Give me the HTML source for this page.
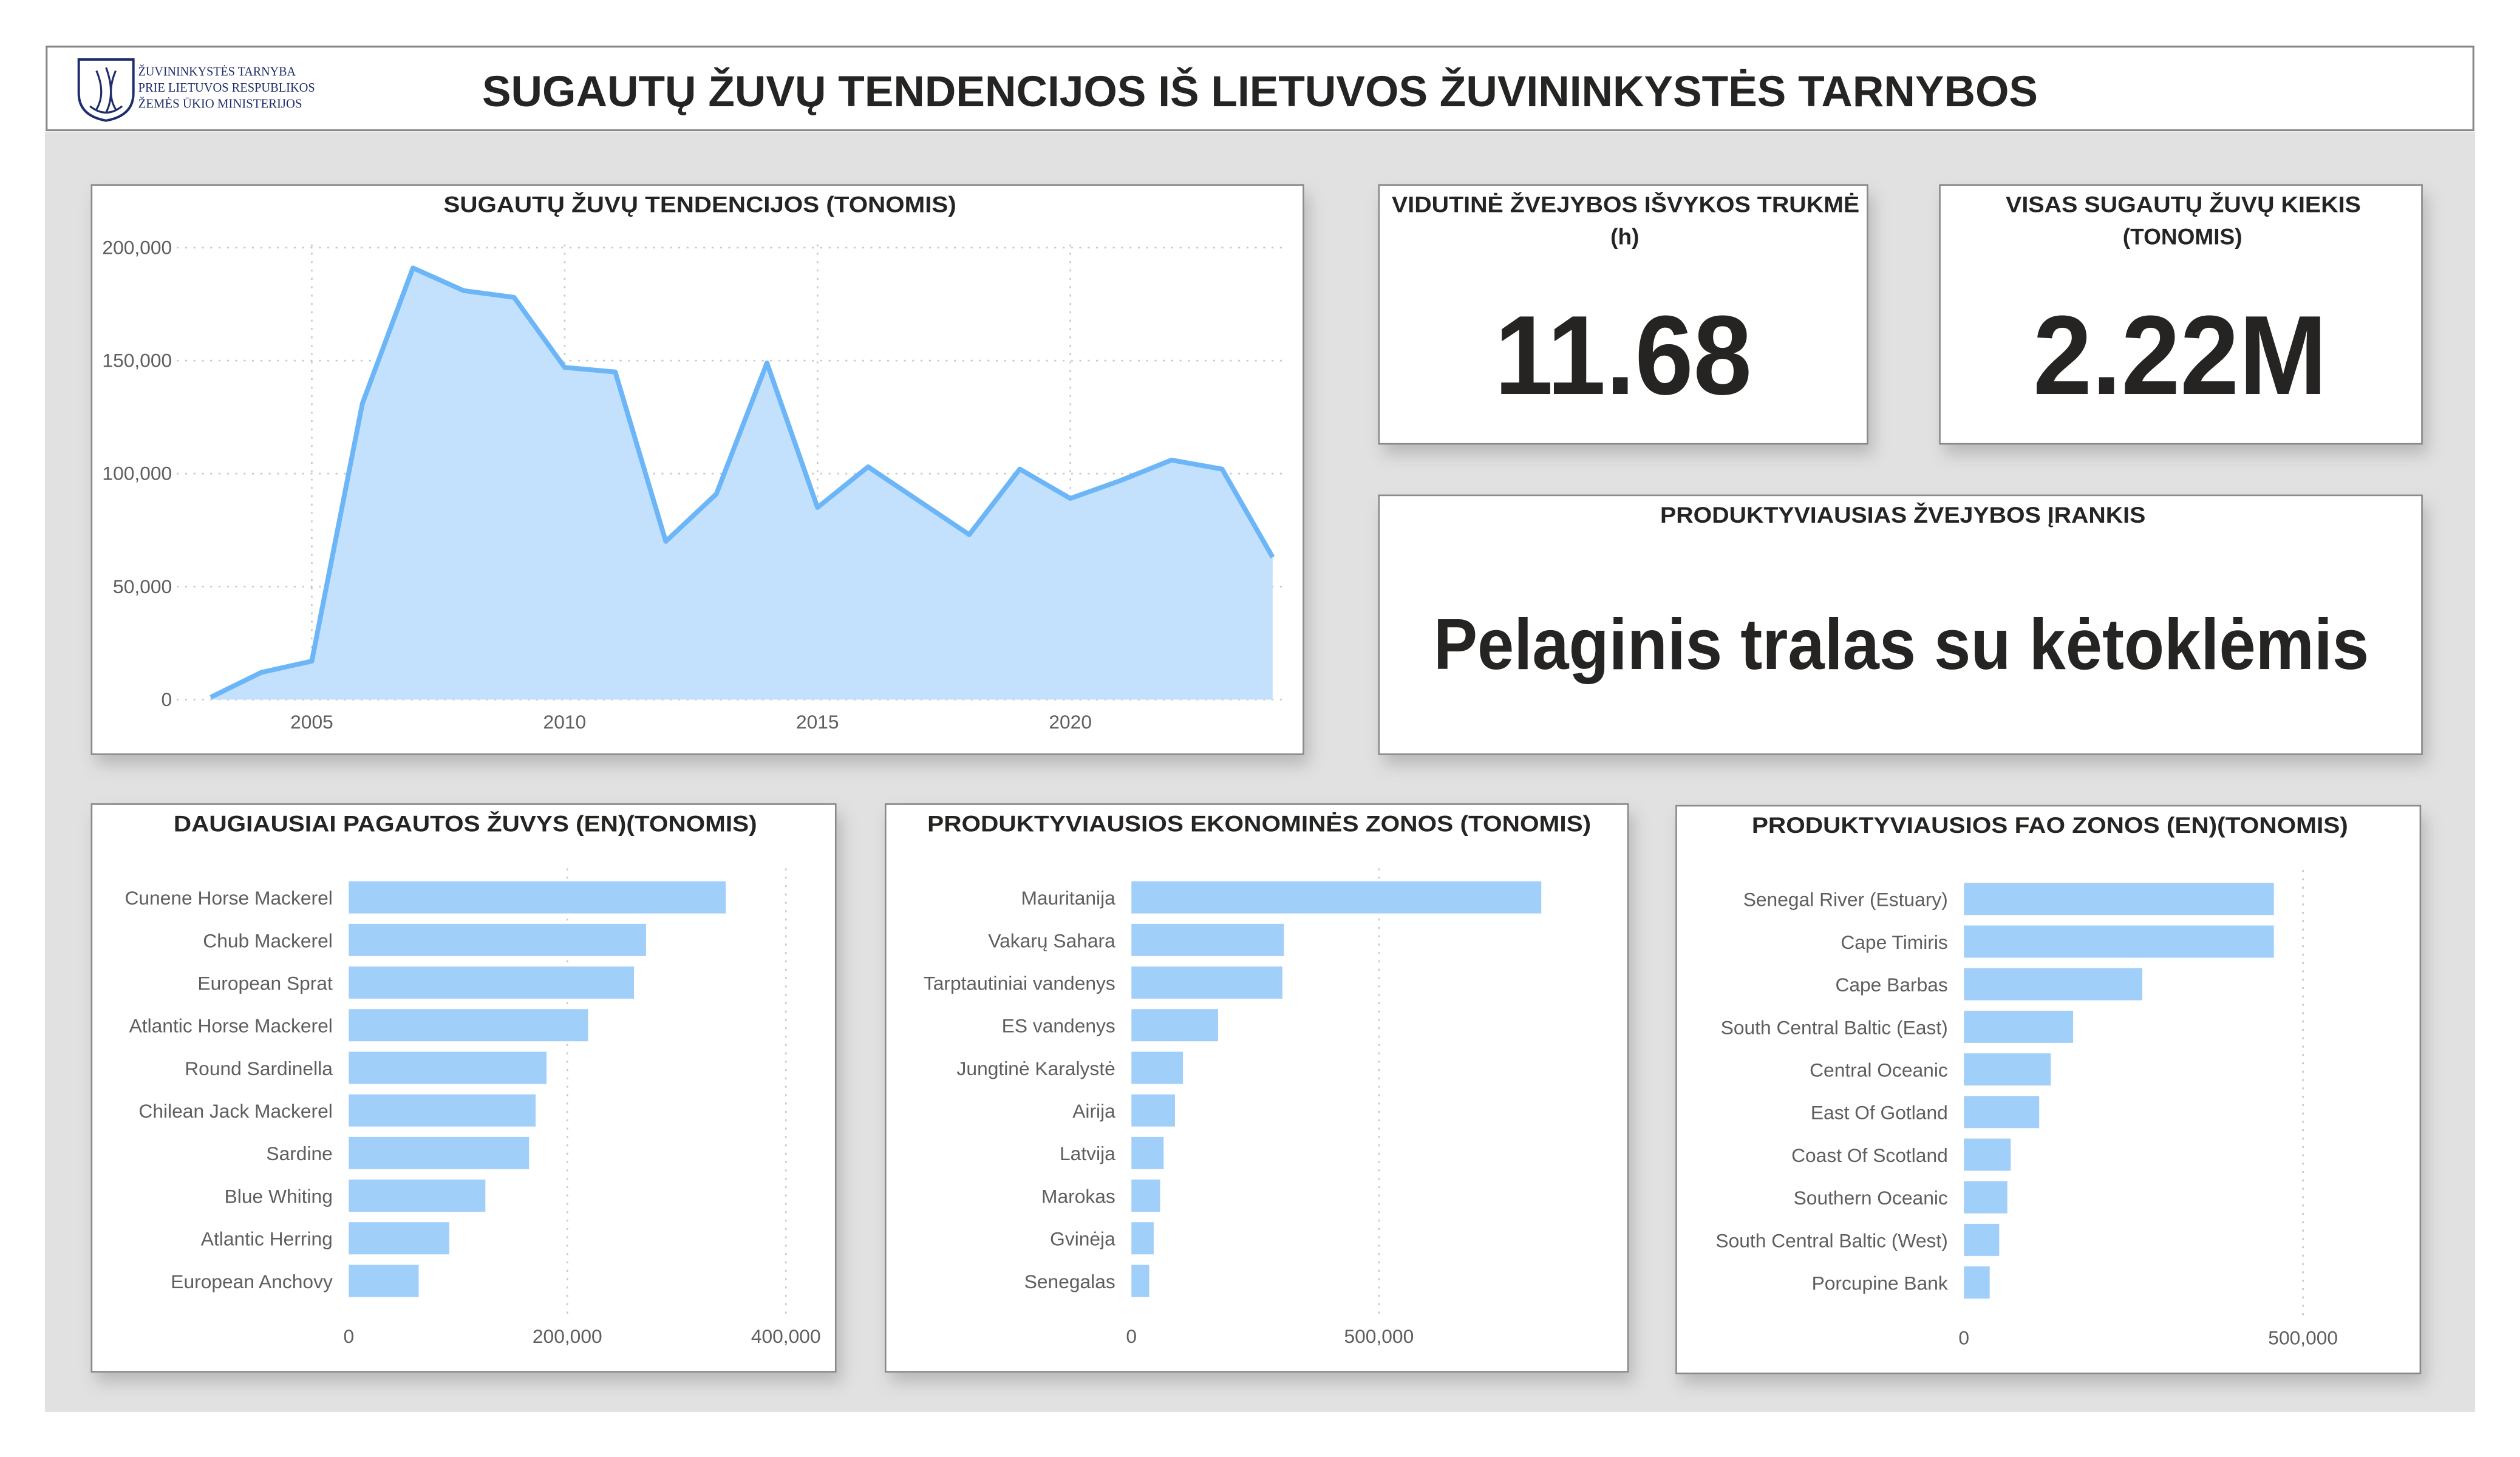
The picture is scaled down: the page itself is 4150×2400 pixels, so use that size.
<!DOCTYPE html>
<html><head><meta charset="utf-8"><style>
html,body{margin:0;padding:0;background:#fff;width:4150px;height:2400px;overflow:hidden}
svg{display:block}
text{font-family:"Liberation Sans",sans-serif}
.t{font-weight:bold;fill:#252423}
.ax{fill:#605e5c;font-size:12px}
.cat{fill:#605e5c;font-size:12px}
.serif{font-family:"Liberation Serif",serif}
</style></head><body>
<svg id="root" width="4150" height="2400" viewBox="0 0 1568 906" preserveAspectRatio="none" xmlns="http://www.w3.org/2000/svg">
<defs>
<filter id="sh" x="-10%" y="-10%" width="130%" height="140%"><feDropShadow dx="3" dy="6" stdDeviation="5" flood-color="#000" flood-opacity="0.18"/></filter>
</defs>
<rect x="0" y="0" width="1568" height="906" fill="#fff"/>
<rect x="28" y="82" width="1512" height="796" fill="#e1e1e1"/>
<g>
<rect x="29" y="29" width="1510" height="52" fill="#fff" stroke="#8a8a8a" stroke-width="1.2"/>
<g>
<path d="M49,37 L83,37 L83,58 Q83,72 66,75 Q49,72 49,58 Z" fill="#fff" stroke="#1f2d6b" stroke-width="1.5"/>
<path d="M60,44 Q66,58 60,68 M66,42 Q72,58 66,70 M72,44 Q66,58 72,68 M56,66 Q66,74 76,66" fill="none" stroke="#1f2d6b" stroke-width="1.2"/>
<text class="serif" style="font-family:'Liberation Serif',serif" x="86" y="47" font-size="7.8" fill="#1f2d6b" textLength="98" lengthAdjust="spacingAndGlyphs">ŽUVININKYSTĖS TARNYBA</text>
<text class="serif" style="font-family:'Liberation Serif',serif" x="86" y="57" font-size="7.8" fill="#1f2d6b" textLength="110" lengthAdjust="spacingAndGlyphs">PRIE LIETUVOS RESPUBLIKOS</text>
<text class="serif" style="font-family:'Liberation Serif',serif" x="86" y="67" font-size="7.8" fill="#1f2d6b" textLength="102" lengthAdjust="spacingAndGlyphs">ŽEMĖS ŪKIO MINISTERIJOS</text>
</g>
<text class="t" x="300" y="66" font-size="27" textLength="968" lengthAdjust="spacingAndGlyphs">SUGAUTŲ ŽUVŲ TENDENCIJOS IŠ LIETUVOS ŽUVININKYSTĖS TARNYBOS</text>
</g>

<g>
<rect x="57" y="115" width="754" height="354" fill="#fff" stroke="#8a8a8a" filter="url(#sh)"/>
<text class="t" x="276" y="132" font-size="14" textLength="319" lengthAdjust="spacingAndGlyphs">SUGAUTŲ ŽUVŲ TENDENCIJOS (TONOMIS)</text>
<g id="lineg"></g>
</g>

<g>
<rect x="858" y="115" width="304" height="161" fill="#fff" stroke="#8a8a8a" filter="url(#sh)"/>
<text class="t" x="866" y="132" font-size="14" textLength="291" lengthAdjust="spacingAndGlyphs">VIDUTINĖ ŽVEJYBOS IŠVYKOS TRUKMĖ</text>
<text class="t" x="1011" y="152" font-size="14" text-anchor="middle">(h)</text>
<text class="t" x="930" y="245" font-size="70" textLength="160" lengthAdjust="spacingAndGlyphs">11.68</text>
</g>
<g>
<rect x="1207" y="115" width="300" height="161" fill="#fff" stroke="#8a8a8a" filter="url(#sh)"/>
<text class="t" x="1248" y="132" font-size="14" textLength="221" lengthAdjust="spacingAndGlyphs">VISAS SUGAUTŲ ŽUVŲ KIEKIS</text>
<text class="t" x="1358" y="152" font-size="14" text-anchor="middle">(TONOMIS)</text>
<text class="t" x="1265" y="245" font-size="70" textLength="183" lengthAdjust="spacingAndGlyphs">2.22M</text>
</g>
<g>
<rect x="858" y="308" width="649" height="161" fill="#fff" stroke="#8a8a8a" filter="url(#sh)"/>
<text class="t" x="1033" y="325" font-size="14" textLength="302" lengthAdjust="spacingAndGlyphs">PRODUKTYVIAUSIAS ŽVEJYBOS ĮRANKIS</text>
<text class="t" x="892" y="416" font-size="45" textLength="582" lengthAdjust="spacingAndGlyphs">Pelaginis tralas su kėtoklėmis</text>
</g>
<g id="bars"></g>
</svg>
<script>
var NS="http://www.w3.org/2000/svg";
function mk(tag,attrs,parent,txt){var e=document.createElementNS(NS,tag);for(var k in attrs)e.setAttribute(k,attrs[k]);if(txt!==undefined)e.textContent=txt;parent.appendChild(e);return e;}

// ---- line chart data ----
var years=[2003,2004,2005,2006,2007,2008,2009,2010,2011,2012,2013,2014,2015,2016,2017,2018,2019,2020,2021,2022,2023,2024];
var catchTons=[1000,12000,17000,131000,191000,181000,178000,147000,145000,70000,91000,149000,85000,103000,88000,73000,102000,89000,97000,106000,102000,63000];
var yTicks=[0,50000,100000,150000,200000];
var yTickLabels=["0","50,000","100,000","150,000","200,000"];
var xTicks=[2005,2010,2015,2020];

// ---- bar chart data ----
var fishCats=["Cunene Horse Mackerel","Chub Mackerel","European Sprat","Atlantic Horse Mackerel","Round Sardinella","Chilean Jack Mackerel","Sardine","Blue Whiting","Atlantic Herring","European Anchovy"];
var fishVals=[345000,272000,261000,219000,181000,171000,165000,125000,92000,64000];
var fishTicks=[0,200000,400000];
var fishTickLabels=["0","200,000","400,000"];
var zoneCats=["Mauritanija","Vakarų Sahara","Tarptautiniai vandenys","ES vandenys","Jungtinė Karalystė","Airija","Latvija","Marokas","Gvinėja","Senegalas"];
var zoneVals=[828000,308000,305000,175000,104000,88000,65000,58000,45000,36000];
var zoneTicks=[0,500000];
var zoneTickLabels=["0","500,000"];
var faoCats=["Senegal River (Estuary)","Cape Timiris","Cape Barbas","South Central Baltic (East)","Central Oceanic","East Of Gotland","Coast Of Scotland","Southern Oceanic","South Central Baltic (West)","Porcupine Bank"];
var faoVals=[457000,457000,263000,161000,128000,111000,69000,64000,52000,38000];
var faoTicks=[0,500000];
var faoTickLabels=["0","500,000"];

// line chart
(function(){
  var g=document.getElementById('lineg');
  function xs(yr){return 194+(yr-2005)*(666-194)/15;}
  function ys(v){return 435-v*(435-154)/200000;}
  yTicks.forEach(function(t,i){
    var l=mk('line',{x1:110,x2:800,y1:ys(t),y2:ys(t),stroke:'#c8c8c8','stroke-dasharray':'1.2 4','stroke-width':1},g);
    
    
    var tx=mk('text',{x:107,y:ys(t)+4,'text-anchor':'end','class':'ax'},g,yTickLabels[i]);
    
    
  });
  xTicks.forEach(function(t){
    var l=mk('line',{x1:xs(t),x2:xs(t),y1:152,y2:435,stroke:'#c8c8c8','stroke-dasharray':'1.2 4','stroke-width':1},g);
    
    
    var tx=mk('text',{x:xs(t),y:453,'text-anchor':'middle','class':'ax'},g,String(t));
    
    
  });
  var pts=years.map(function(y,i){return xs(y).toFixed(2)+','+ys(catchTons[i]).toFixed(2);});
  var area=mk('path',{d:'M'+xs(years[0])+','+ys(0)+' L'+pts.join(' L')+' L'+xs(years[years.length-1])+','+ys(0)+' Z',fill:'#c3e0fc'},g);
  
  
  var line=mk('polyline',{points:pts.join(' '),fill:'none',stroke:'#6cb6f8','stroke-width':3,'stroke-linejoin':'round'},g);
  
  
})();

// bar charts
function barChart(cfg){
  var root=document.getElementById('bars');
  var g=mk('g',{},root);
  
  
  var r=mk('rect',{x:cfg.cx,y:cfg.cy,width:cfg.cw,height:353,fill:'#fff',stroke:'#8a8a8a',filter:'url(#sh)'},g);
  
  
  var t=mk('text',{x:cfg.tx,y:cfg.cy+17,'class':'t','font-size':14,textLength:cfg.tw,lengthAdjust:'spacingAndGlyphs'},g,cfg.title);
  
  
  function xs(v){return cfg.x0+v*cfg.scale;}
  cfg.ticks.forEach(function(tv,i){
    if(tv>0){
      var l=mk('line',{x1:xs(tv),x2:xs(tv),y1:cfg.cy+40,y2:cfg.cy+317,stroke:'#c8c8c8','stroke-dasharray':'1.2 4'},g);
      
      
    }
    var tx=mk('text',{x:xs(tv),y:cfg.cy+335,'text-anchor':'middle','class':'ax','font-size':12.5},g,cfg.tickLabels[i]);
    
    
  });
  cfg.cats.forEach(function(c,i){
    var yc=cfg.cy+58+i*26.5;
    var lb=mk('text',{x:cfg.x0-10,y:yc+4.5,'text-anchor':'end','class':'cat'},g,c);
    
    
    var b=mk('rect',{x:cfg.x0,y:yc-10,width:Math.max(0,xs(cfg.vals[i])-cfg.x0),height:20,fill:'#a0cffa'},g);
    
    
  });
}
barChart({name:'top-fish-chart',cx:57,cy:500,cw:463,tx:108,tw:363,title:'DAUGIAUSIAI PAGAUTOS ŽUVYS (EN)(TONOMIS)',x0:217,scale:(489-217)/400000,cats:fishCats,vals:fishVals,ticks:fishTicks,tickLabels:fishTickLabels});
barChart({name:'top-economic-zones-chart',cx:551,cy:500,cw:462,tx:577,tw:413,title:'PRODUKTYVIAUSIOS EKONOMINĖS ZONOS (TONOMIS)',x0:704,scale:(858-704)/500000,cats:zoneCats,vals:zoneVals,ticks:zoneTicks,tickLabels:zoneTickLabels});
barChart({name:'top-fao-zones-chart',cx:1043,cy:501,cw:463,tx:1090,tw:371,title:'PRODUKTYVIAUSIOS FAO ZONOS (EN)(TONOMIS)',x0:1222,scale:(1433-1222)/500000,cats:faoCats,vals:faoVals,ticks:faoTicks,tickLabels:faoTickLabels});
</script>
</body></html>
